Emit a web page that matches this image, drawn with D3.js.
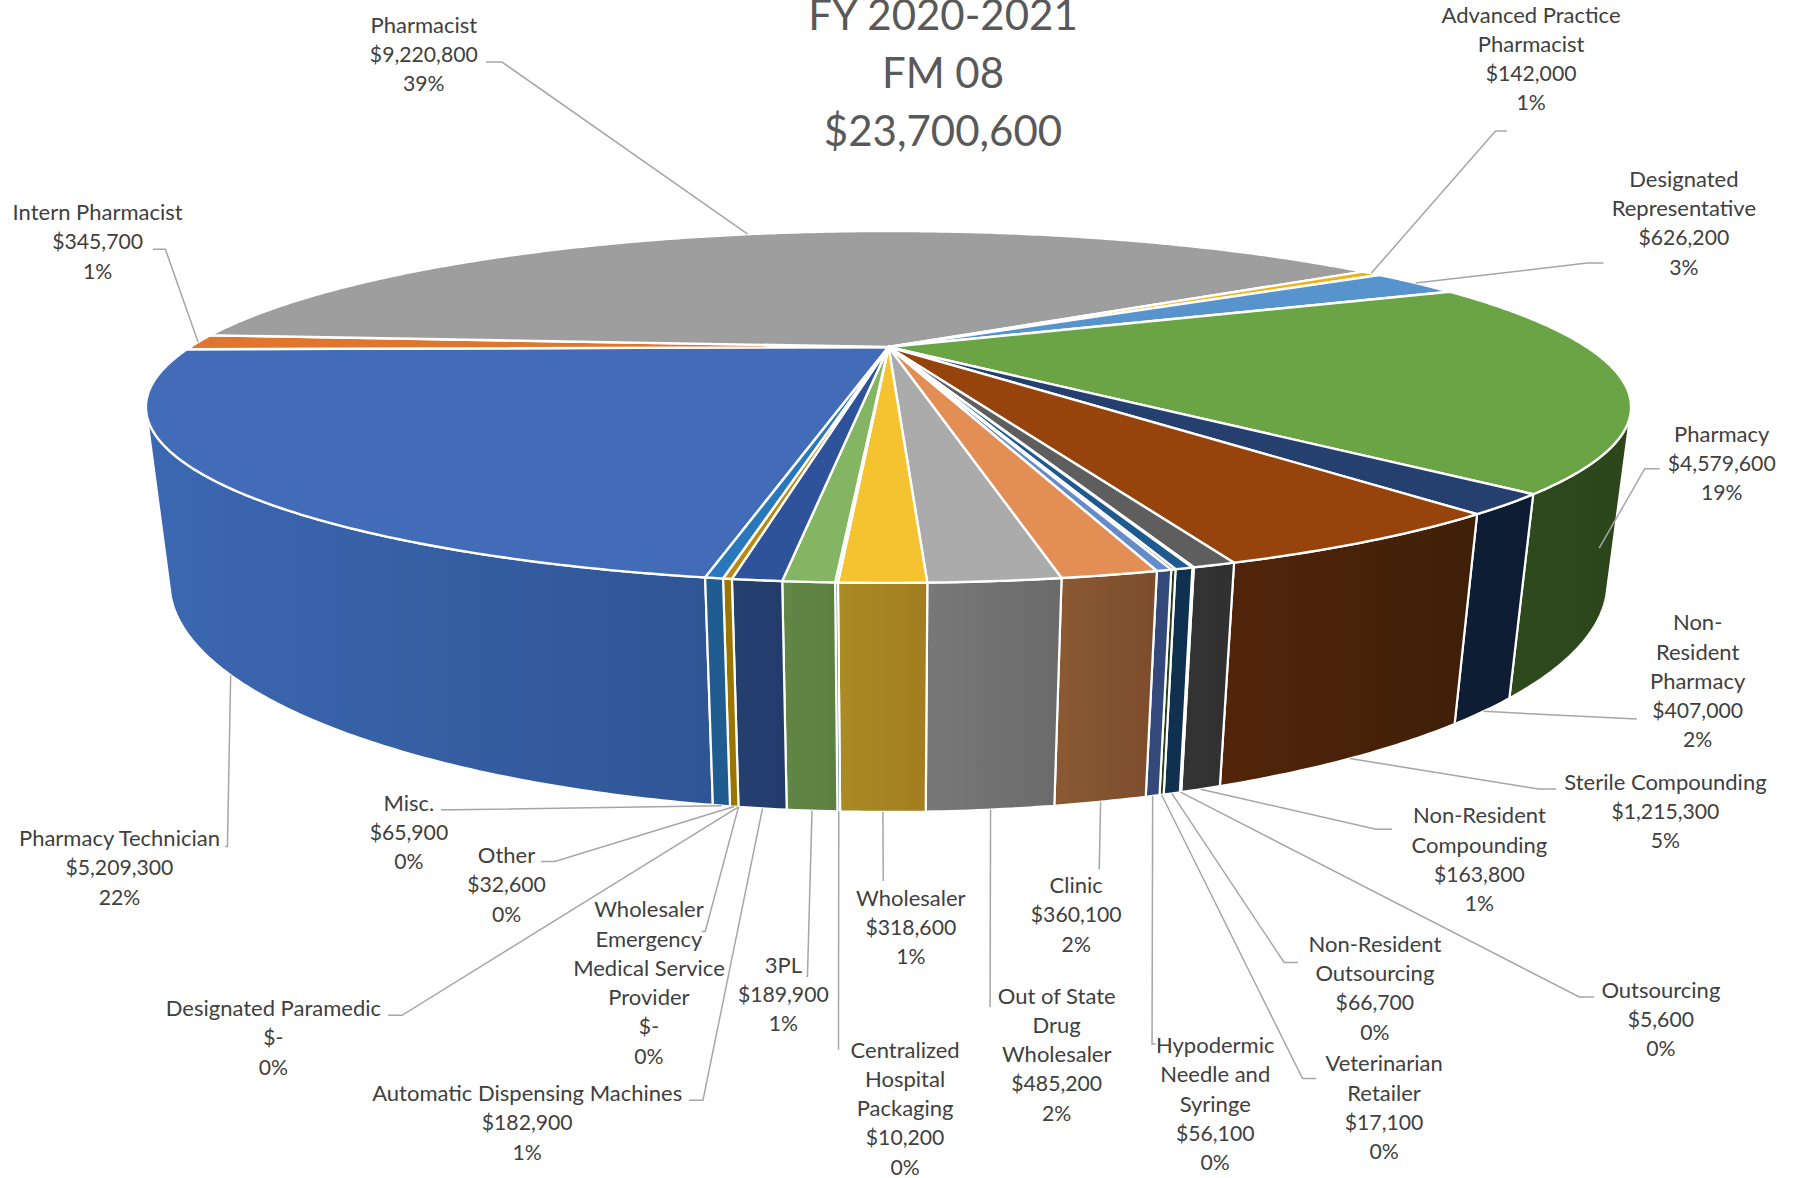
<!DOCTYPE html>
<html>
<head>
<meta charset="utf-8">
<script src="https://cdn.jsdelivr.net/npm/d3@7"></script>
<style>
html,body{margin:0;padding:0;background:#fff;overflow:hidden}
svg{display:block}
text{font-family:Lato,"Open Sans",sans-serif}
</style>
</head>
<body>
<svg id="chart" width="1801" height="1178"></svg>
<script>
// ---------- data ----------
const titleLines = ["FY 2020-2021", "FM 08", "$23,700,600"];
const categories = ["Pharmacy Technician","Intern Pharmacist","Pharmacist","Advanced Practice Pharmacist","Designated Representative","Pharmacy","Non-Resident Pharmacy","Sterile Compounding","Non-Resident Compounding","Outsourcing","Non-Resident Outsourcing","Veterinarian Retailer","Hypodermic Needle and Syringe","Clinic","Out of State Drug Wholesaler","Wholesaler","Centralized Hospital Packaging","3PL","Automatic Dispensing Machines","Wholesaler Emergency Medical Service Provider","Designated Paramedic","Other","Misc."];
const values = [5209300,345700,9220800,142000,626200,4579600,407000,1215300,163800,5600,66700,17100,56100,360100,485200,318600,10200,189900,182900,0,0,32600,65900];
const valueLabels = ["$5,209,300","$345,700","$9,220,800","$142,000","$626,200","$4,579,600","$407,000","$1,215,300","$163,800","$5,600","$66,700","$17,100","$56,100","$360,100","$485,200","$318,600","$10,200","$189,900","$182,900","$-","$-","$32,600","$65,900"];
const percentLabels = ["22%","1%","39%","1%","3%","19%","2%","5%","1%","0%","0%","0%","0%","2%","2%","1%","0%","1%","1%","0%","0%","0%","0%"];
const nameLines = [["Pharmacy Technician"],["Intern Pharmacist"],["Pharmacist"],["Advanced Practice","Pharmacist"],["Designated","Representative"],["Pharmacy"],["Non-","Resident","Pharmacy"],["Sterile Compounding"],["Non-Resident","Compounding"],["Outsourcing"],["Non-Resident","Outsourcing"],["Veterinarian","Retailer"],["Hypodermic","Needle and","Syringe"],["Clinic"],["Out of State","Drug","Wholesaler"],["Wholesaler"],["Centralized","Hospital","Packaging"],["3PL"],["Automatic Dispensing Machines"],["Wholesaler","Emergency","Medical Service","Provider"],["Designated Paramedic"],["Other"],["Misc."]];

// ---------- styles ----------
const topColors = ["#426cb8","#e0752d","#9e9e9e","#f2b311","#5793cd","#6aa444","#25406f","#97430c","#5e5e5e","#997300","#1f5a8e","#43682b","#658cca","#e38e55","#ababab","#f4c32f","#7cafdd","#84b562","#2f539a","#888888","#888888","#b88a10","#2a78bc"];
const wallColors = [["#3c68b2","#2f5595"],["#b85f22","#b85f22"],["#777777","#777777"],["#b08a10","#b08a10"],["#3f6f9c","#3f6f9c"],["#2e4a1d","#2c451b"],["#0e1e35","#0d1c33"],["#52250a","#3f1f08"],["#343434","#303030"],["#5c4600","#5c4600"],["#10304f","#10304f"],["#26401a","#26401a"],["#34497a","#34497a"],["#8b5a34","#7c4c2c"],["#787878","#6a6a6a"],["#aa8b24","#a37d20"],["#3a5f80","#3a5f80"],["#628646","#5c8040"],["#24406f","#233b6c"],["#777777","#777777"],["#777777","#777777"],["#9a7600","#9a7600"],["#215c90","#215c90"]];

// ---------- layout (reference units, scaled by k) ----------
const k = 1801 / 1568;
// [centre x, first line centre y, stub x0, stub y, elbow x]
const labelLayout = [
 [104,730,196,737,198],[85,185,133,217,144],[369,22,423,54,437],[1333,13,1312,114,1302],
 [1466,156,1396,229,1382],[1499,378,1445,408,1432],[1478,542,1425,626,1425],[1450,681,1355,687,1340],
 [1288,710,1212,722,1198],[1446,862,1388,868,1375],[1197,822,1130,838,1118],[1205,926,1146,939,1134],
 [1058,910,1006,909,1003],[937,771,957,757,957],[920,867,862,877,862],[793,782,769,767,769],
 [788,914,730,914,730],[682,840,702,850,703],[459,952,600,958,612],[565,792,611,811,614],
 [238,878,338,884,350],[441,745,471,750,483],[356,699,384,705,395]];
const lineStep = 25.55;
const nameFont = 22, valueFont = 21.2, titleFont = 42;

// ---------- projection of the tilted disc ----------
const cx = 888.5, cy = 347, A = 698.1, B = 155.5, p = 0.3408, h = 0.0291, Vx = 889, Vy = 6000;
const deg = Math.PI / 180;
function homog(t){
  const x = Math.sin(t), y = -Math.cos(t), W = 1 - p * y;
  return [cx * W + A * x, cy * W + B * y, W];
}
const topPt = t => { const [X,Y,W] = homog(t); return [X / W, Y / W]; };
const botPt = t => { const [X,Y,W] = homog(t); return [(X + h * Vx) / (W + h), (Y + h * Vy) / (W + h)]; };
const arcAngles = (a, b) => { const n = Math.max(2, Math.ceil((b - a) / (0.5 * deg))); return d3.range(n + 1).map(i => a + (b - a) * i / n); };

const startDeg = 190.05;
const slices = d3.pie().sort(null).value(d => d).startAngle(startDeg * deg).endAngle(startDeg * deg + 2 * Math.PI)(values);
slices.forEach((s, i) => { s.i = i; s.mid = (s.startAngle + s.endAngle) / 2; });

const svg = d3.select("#chart");
const defs = svg.append("defs");
const line = d3.line();
const visA = 112 * deg, visB = 248 * deg;
const norm = t => { const a = t % (2 * Math.PI); return a < 0 ? a + 2 * Math.PI : a; };

// outer wall: only the part that faces the viewer
const wallData = [];
slices.filter(s => s.value > 0).forEach(s => {
  const candidates = [[s.startAngle, s.endAngle], [s.startAngle - 2 * Math.PI, s.endAngle - 2 * Math.PI]];
  candidates.forEach(([a, b]) => {
    const a2 = Math.max(a, visA), b2 = Math.min(b, visB);
    if (b2 > a2) wallData.push({ i: s.i, a: a2, b: b2 });
  });
});
wallData.forEach(w => {
  const angles = arcAngles(w.a, w.b);
  const pts = angles.map(topPt).concat(angles.slice().reverse().map(botPt));
  const xs = d3.extent(pts, d => d[0]);
  const id = "wall" + w.i;
  const g = defs.append("linearGradient").attr("id", id).attr("gradientUnits", "userSpaceOnUse")
    .attr("x1", xs[0]).attr("x2", xs[1]).attr("y1", 0).attr("y2", 0);
  g.append("stop").attr("offset", 0).attr("stop-color", wallColors[w.i][0]);
  g.append("stop").attr("offset", 1).attr("stop-color", wallColors[w.i][1]);
  w.path = line(pts) + "Z"; w.fill = "url(#" + id + ")";
});
svg.append("g").selectAll("path").data(wallData).join("path")
  .attr("d", d => d.path).attr("fill", d => d.fill)
  .attr("stroke", "#fff").attr("stroke-width", 2.2).attr("stroke-linejoin", "round");

// top face
svg.append("g").selectAll("path").data(slices.filter(s => s.value > 0)).join("path")
  .attr("d", s => line([[cx, cy]].concat(arcAngles(s.startAngle, s.endAngle).map(topPt))) + "Z")
  .attr("fill", s => topColors[s.i])
  .attr("stroke", "#fff").attr("stroke-width", 2.4).attr("stroke-linejoin", "round");

// leaders
function anchor(s){
  const t = norm(s.mid);
  return (t > 90 * deg && t < 270 * deg) ? botPt(t) : topPt(t);
}
svg.append("g").selectAll("path").data(slices).join("path")
  .attr("fill", "none").attr("stroke", "#a6a6a6").attr("stroke-width", 1.5)
  .attr("d", s => {
    const L = labelLayout[s.i];
    return line([[L[2] * k, L[3] * k], [L[4] * k, L[3] * k], anchor(s)]);
  });

// labels
const labelG = svg.append("g").attr("fill", "#404040").attr("text-anchor", "middle");
slices.forEach(s => {
  const L = labelLayout[s.i];
  const names = nameLines[s.i];
  const lines = names.concat([valueLabels[s.i], percentLabels[s.i]]);
  labelG.selectAll(null).data(lines).join("text")
    .attr("x", L[0] * k)
    .attr("y", (d, j) => (L[1] + j * lineStep) * k)
    .attr("dy", "0.35em")
    .attr("font-size", (d, j) => j < names.length ? nameFont : valueFont)
    .text(d => d);
});

// title
svg.append("g").attr("fill", "#595959").attr("font-size", titleFont).attr("text-anchor", "middle")
  .selectAll("text").data(titleLines).join("text")
  .attr("x", 821 * k)
  .attr("y", (d, i) => (13 + i * 50.5) * k)
  .attr("dy", "0.35em")
  .text(d => d);
</script>
</body>
</html>
